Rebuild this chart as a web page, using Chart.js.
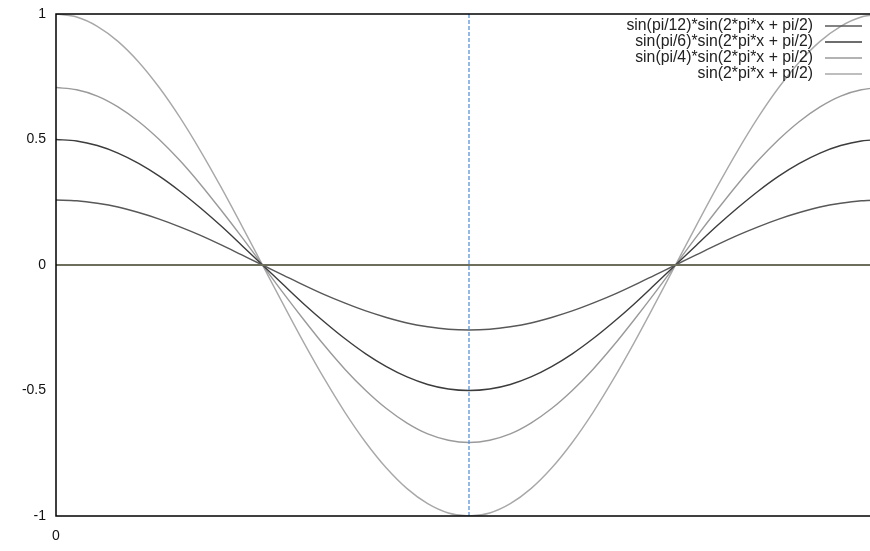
<!DOCTYPE html>
<html>
<head>
<meta charset="utf-8">
<script src="https://cdn.jsdelivr.net/npm/chart.js@4"></script>
<style>
html,body{margin:0;padding:0;background:#fff;overflow:hidden;width:870px;height:551px;}
#wrap{position:absolute;left:0;top:0;width:890px;height:551px;}
</style>
</head>
<body>
<div id="wrap"><canvas id="c" width="890" height="551"></canvas></div>
<script>
// x positions (0 .. 1 step 0.025)
const xValues = [0,0.025,0.05,0.075,0.1,0.125,0.15,0.175,0.2,0.225,0.25,0.275,0.3,0.325,0.35,0.375,0.4,0.425,0.45,0.475,0.5,
  0.525,0.55,0.575,0.6,0.625,0.65,0.675,0.7,0.725,0.75,0.775,0.8,0.825,0.85,0.875,0.9,0.925,0.95,0.975,1];
const seriesLabels = ['sin(pi/12)*sin(2*pi*x + pi/2)','sin(pi/6)*sin(2*pi*x + pi/2)','sin(pi/4)*sin(2*pi*x + pi/2)','sin(2*pi*x + pi/2)'];
const serPi12 = [0.259,0.256,0.246,0.231,0.209,0.183,0.152,0.118,0.080,0.040,0,-0.040,-0.080,-0.118,-0.152,-0.183,-0.209,-0.231,-0.246,-0.256,-0.259,
  -0.256,-0.246,-0.231,-0.209,-0.183,-0.152,-0.118,-0.080,-0.040,0,0.040,0.080,0.118,0.152,0.183,0.209,0.231,0.246,0.256,0.259];
const serPi6 = [0.5,0.494,0.476,0.446,0.405,0.354,0.294,0.227,0.155,0.078,0,-0.078,-0.155,-0.227,-0.294,-0.354,-0.405,-0.446,-0.476,-0.494,-0.5,
  -0.494,-0.476,-0.446,-0.405,-0.354,-0.294,-0.227,-0.155,-0.078,0,0.078,0.155,0.227,0.294,0.354,0.405,0.446,0.476,0.494,0.5];
const serPi4 = [0.707,0.698,0.673,0.630,0.572,0.5,0.416,0.321,0.218,0.111,0,-0.111,-0.218,-0.321,-0.416,-0.5,-0.572,-0.630,-0.673,-0.698,-0.707,
  -0.698,-0.673,-0.630,-0.572,-0.5,-0.416,-0.321,-0.218,-0.111,0,0.111,0.218,0.321,0.416,0.5,0.572,0.630,0.673,0.698,0.707];
const serOne = [1,0.988,0.951,0.891,0.809,0.707,0.588,0.454,0.309,0.156,0,-0.156,-0.309,-0.454,-0.588,-0.707,-0.809,-0.891,-0.951,-0.988,-1,
  -0.988,-0.951,-0.891,-0.809,-0.707,-0.588,-0.454,-0.309,-0.156,0,0.156,0.309,0.454,0.588,0.707,0.809,0.891,0.951,0.988,1];
const seriesColors = ['#585858','#3c3c3c','#9a9a9a','#a8a8a8'];
const yTicks = [-1,-0.5,0,0.5,1];
const xTicks = [0];
const zeroLine = [{x:0,y:0},{x:1,y:0}];
const midLine = [{x:0.5,y:-1},{x:0.5,y:1}];

const FONT = 'Tahoma, "Liberation Sans", Arial, sans-serif';
function pts(arr){ return arr.map((v,i)=>({x:xValues[i],y:v})); }
const series = [serPi12, serPi6, serPi4, serOne];

const datasets = series.map((s,i)=>({
  label: seriesLabels[i], data: pts(s), borderColor: seriesColors[i], borderWidth: 1.4,
  pointRadius: 0, tension: 0.4, cubicInterpolationMode: 'monotone', fill: false, order: 2
}));
datasets.push({label:'zero', data: zeroLine, borderColor:'#6e6e5c', borderWidth:2, pointRadius:0, order:1});
datasets.push({label:'mid', data: midLine, borderColor:'#4a8ad8', borderWidth:1.2, borderDash:[4,2], pointRadius:0, order:0});

const frame = {
  id:'frame',
  afterDraw(chart){
    const {ctx, chartArea:a} = chart;
    ctx.save();
    ctx.strokeStyle = '#000'; ctx.lineWidth = 1.5;
    ctx.strokeRect(a.left, a.top, a.right - a.left, a.bottom - a.top);
    // legend
    ctx.font = '15.8px ' + FONT;
    ctx.textAlign = 'right'; ctx.textBaseline = 'middle';
    for (let i = 0; i < seriesLabels.length; i++) {
      const y = 26 + i * 16;
      ctx.fillStyle = '#222';
      ctx.fillText(seriesLabels[i], 813, y);
      ctx.strokeStyle = seriesColors[i]; ctx.lineWidth = 1.4;
      ctx.beginPath(); ctx.moveTo(825, y); ctx.lineTo(862, y); ctx.stroke();
    }
    ctx.restore();
  }
};

new Chart(document.getElementById('c'), {
  type: 'line',
  data: { datasets },
  plugins: [frame],
  options: {
    responsive: false, animation: false, events: [],
    layout: { padding: { top: 14, right: 8, left: 0, bottom: 0 } },
    plugins: { legend: { display: false }, tooltip: { enabled: false } },
    scales: {
      x: {
        type: 'linear', min: 0, max: 1,
        afterBuildTicks: s => { s.ticks = xTicks.map(v=>({value:v})); },
        afterFit: s => { s.height = 35; s.paddingLeft = 0; s.paddingRight = 0; },
        grid: { display: false, drawTicks: false },
        border: { display: false },
        ticks: { color: '#111', font: { family: FONT, size: 14 }, padding: 12, maxRotation: 0, callback: v => String(v) }
      },
      y: {
        min: -1, max: 1,
        afterBuildTicks: s => { s.ticks = yTicks.map(v=>({value:v})); },
        afterFit: s => { s.width = 56; s.paddingTop = 0; s.paddingBottom = 0; },
        grid: { display: false, drawTicks: false },
        border: { display: false },
        ticks: { color: '#111', font: { family: FONT, size: 14 }, padding: 10, callback: v => String(v) }
      }
    }
  }
});
</script>
</body>
</html>
